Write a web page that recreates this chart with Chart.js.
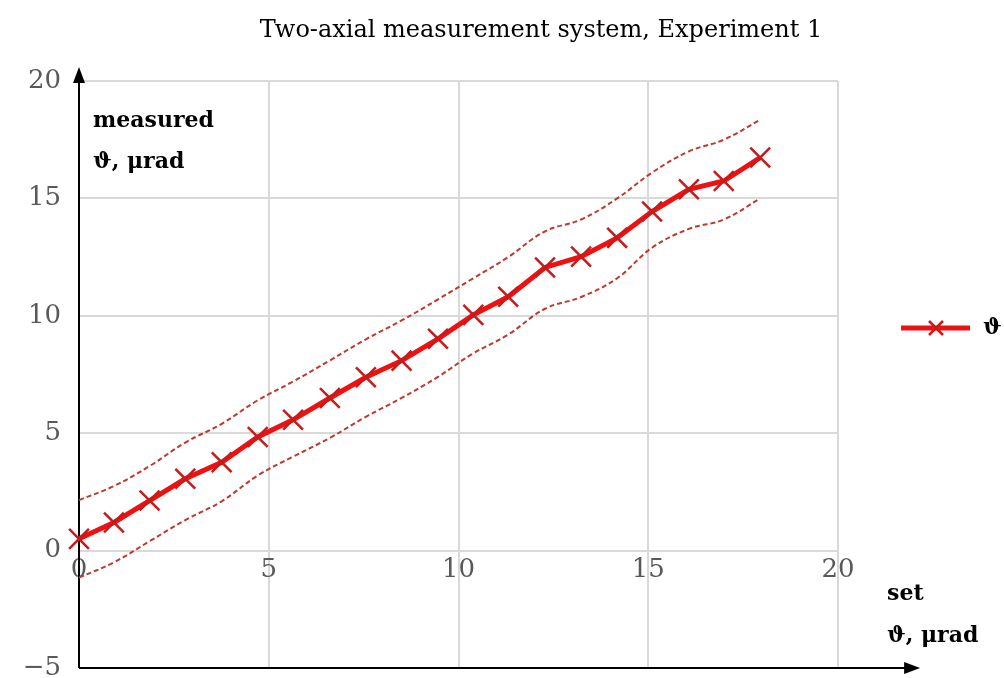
<!DOCTYPE html>
<html>
<head>
<meta charset="utf-8">
<script src="https://cdn.jsdelivr.net/npm/chart.js"></script>
<style>
html, body { margin: 0; padding: 0; background: #fff; }
#wrap { width: 1004px; height: 678px; }
</style>
</head>
<body>
<div id="wrap"><canvas id="chart" width="1004" height="678"></canvas></div>
<script>
// Werte
const setValues = [0, 0.92, 1.86, 2.8, 3.76, 4.71, 5.64, 6.61, 7.56, 8.5, 9.46, 10.39, 11.31, 12.28, 13.23, 14.18, 15.1, 16.07, 16.99, 17.95];
const measuredValues = [0.5, 1.2, 2.13, 3.06, 3.76, 4.84, 5.57, 6.5, 7.38, 8.09, 9.02, 10.04, 10.81, 12.06, 12.52, 13.32, 14.44, 15.39, 15.74, 16.74];
const upperBound = [2.15, 2.75, 3.6, 4.6, 5.4, 6.4, 7.2, 8.1, 9.0, 9.8, 10.7, 11.6, 12.5, 13.6, 14.1, 15.0, 16.1, 17.0, 17.5, 18.35];
const lowerBound = [-1.15, -0.5, 0.4, 1.3, 2.1, 3.2, 4.0, 4.8, 5.7, 6.5, 7.4, 8.4, 9.2, 10.3, 10.8, 11.6, 12.9, 13.7, 14.1, 15.0];

const titleText = 'Two-axial measurement system, Experiment 1';
const seriesLabel = 'ϑ';
const yTitle = ['measured', 'ϑ, μrad'];
const xTitle = ['set', 'ϑ, μrad'];

const serif = '"DejaVu Serif", "Liberation Serif", serif';

function punkte(ys) {
    return setValues.map((x, i) => ({ x: x, y: ys[i] }));
}

// Pfeile, Titel, Achsentitel und Legende
const extrasPlugin = {
    id: 'extras',
    beforeDatasetsDraw(chart) {
        const ctx = chart.ctx;
        const xs = chart.scales.x;
        const ys = chart.scales.y;
        const x0 = xs.getPixelForValue(0);
        const yb = ys.getPixelForValue(-5);
        const yt = ys.getPixelForValue(20);
        const xe = xs.getPixelForValue(21.9);
        ctx.save();
        ctx.strokeStyle = '#000';
        ctx.fillStyle = '#000';
        ctx.lineWidth = 2;
        ctx.beginPath();
        ctx.moveTo(x0, yb);
        ctx.lineTo(x0, yt - 4);
        ctx.moveTo(x0, yb);
        ctx.lineTo(xe - 4, yb);
        ctx.stroke();
        // Pfeilspitzen
        ctx.beginPath();
        ctx.moveTo(x0, yt - 14);
        ctx.lineTo(x0 - 6, yt + 2);
        ctx.lineTo(x0 + 6, yt + 2);
        ctx.closePath();
        ctx.fill();
        ctx.beginPath();
        ctx.moveTo(xe + 10, yb);
        ctx.lineTo(xe - 6, yb - 6);
        ctx.lineTo(xe - 6, yb + 6);
        ctx.closePath();
        ctx.fill();
        ctx.restore();
    },
    afterDraw(chart) {
        const ctx = chart.ctx;
        ctx.save();
        ctx.fillStyle = '#000';
        ctx.textBaseline = 'middle';
        ctx.textAlign = 'center';
        ctx.font = '24px ' + serif;
        ctx.fillText(titleText, 541, 31);

        ctx.textAlign = 'left';
        ctx.font = 'bold 22px ' + serif;
        ctx.fillText(yTitle[0], 93, 121);
        ctx.fillText(yTitle[1], 93, 162);
        ctx.fillText(xTitle[0], 887, 594);
        ctx.fillText(xTitle[1], 887, 636);

        // Legende
        ctx.strokeStyle = '#ee1111';
        ctx.lineWidth = 5;
        ctx.beginPath();
        ctx.moveTo(901, 328);
        ctx.lineTo(970, 328);
        ctx.stroke();
        ctx.strokeStyle = '#cc1a1a';
        ctx.lineWidth = 2.5;
        ctx.beginPath();
        ctx.moveTo(929, 321);
        ctx.lineTo(943, 335);
        ctx.moveTo(943, 321);
        ctx.lineTo(929, 335);
        ctx.stroke();
        ctx.fillStyle = '#000';
        ctx.font = 'bold 22px ' + serif;
        ctx.fillText(seriesLabel, 983, 328);
        ctx.restore();
    }
};

const bandStyle = {
    borderColor: '#c0392b',
    borderWidth: 2,
    borderDash: [5, 3],
    pointRadius: 0,
    showLine: true,
    fill: false,
    tension: 0.4,
    clip: false
};

new Chart(document.getElementById('chart'), {
    type: 'scatter',
    data: {
        datasets: [
            Object.assign({ label: 'upper', data: punkte(upperBound) }, bandStyle),
            Object.assign({ label: 'lower', data: punkte(lowerBound) }, bandStyle),
            {
                label: seriesLabel,
                data: punkte(measuredValues),
                showLine: true,
                borderColor: '#ee1111',
                borderWidth: 5,
                pointStyle: 'crossRot',
                pointRadius: 14,
                pointBorderWidth: 2.5,
                pointBorderColor: '#c81a1a',
                pointBackgroundColor: '#c81a1a',
                clip: false
            }
        ]
    },
    options: {
        responsive: false,
        animation: false,
        layout: { autoPadding: false, padding: { top: 81, right: 166, bottom: 10, left: 0 } },
        plugins: {
            legend: { display: false },
            title: { display: false },
            tooltip: { enabled: false }
        },
        scales: {
            x: {
                type: 'linear',
                position: { y: 0 },
                min: 0,
                max: 20,
                border: { display: false },
                grid: { color: '#d9d9d9', lineWidth: 2, drawTicks: false },
                ticks: {
                    stepSize: 5,
                    padding: 4,
                    color: '#595959',
                    font: { family: serif, size: 26 }
                },
                afterFit: s => { s.height = 0; s.paddingLeft = 0; s.paddingRight = 0; }
            },
            y: {
                type: 'linear',
                position: 'left',
                min: -5,
                max: 20,
                border: { display: false },
                grid: { color: '#d9d9d9', lineWidth: 2, drawTicks: false },
                ticks: {
                    stepSize: 5,
                    padding: 18,
                    color: '#595959',
                    font: { family: serif, size: 26 },
                    callback: v => String(v).replace('-', '−')
                },
                afterFit: s => { s.width = 79; s.paddingTop = 0; s.paddingBottom = 0; }
            }
        }
    },
    plugins: [extrasPlugin]
});
</script>
</body>
</html>
